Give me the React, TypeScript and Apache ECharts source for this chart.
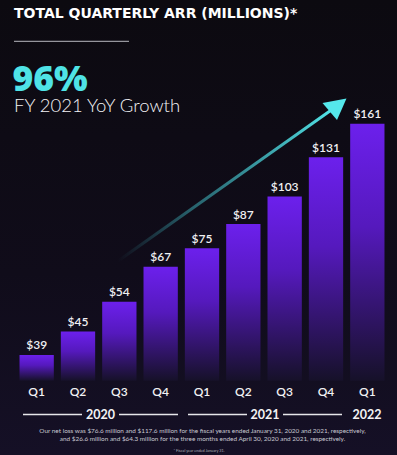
import React, { useEffect, useRef } from "react";
import * as echarts from "echarts";

const quarters = ["Q1", "Q2", "Q3", "Q4", "Q1", "Q2", "Q3", "Q4", "Q1"];
const arrMillions = [39, 45, 54, 67, 75, 87, 103, 131, 161];
const fiscalYears = ["2020", "2021", "2022"];
const titleText = "TOTAL QUARTERLY ARR (MILLIONS)*";
const growthValue = "96%";
const growthLabel = "FY 2021 YoY Growth";
const footLine1 =
  "Our net loss was $76.6 million and $117.6 million for the fiscal years ended January 31, 2020 and 2021, respectively,";
const footLine2 =
  "and $26.6 million and $64.3 million for the three months ended April 30, 2020 and 2021, respectively.";
const footNote = "* Fiscal year ended January 31.";

const W = 397;
const H = 455;

export default function App() {
  const ref = useRef<HTMLDivElement>(null);
  useEffect(() => {
    if (!ref.current) return;
    const chart = echarts.init(ref.current, null, { renderer: "svg" });
    const font = "Lato, 'Open Sans', sans-serif";
    const yearLine = (x1: number, x2: number) => ({
      type: "line",
      shape: { x1, y1: 414.5, x2, y2: 414.5 },
      style: { stroke: "#e6e6ea", lineWidth: 1.5 },
    });
    const yearText = (x: number, t: string) => ({
      type: "text",
      x,
      y: 414.5,
      style: {
        text: t,
        fill: "#f2f2f4",
        font: `bold 12.5px ${font}`,
        align: "center",
        verticalAlign: "middle",
      },
    });
    chart.setOption({
      animation: false,
      backgroundColor: new echarts.graphic.LinearGradient(0, 0, 0, 1, [
        { offset: 0, color: "#0c0a10" },
        { offset: 0.6, color: "#100c1a" },
        { offset: 1, color: "#151026" },
      ]),
      grid: { left: 16, right: 9, top: 100, bottom: 74.3, containLabel: false },
      xAxis: {
        type: "category",
        data: quarters,
        axisLine: { show: false },
        axisTick: { show: false },
        axisLabel: {
          color: "#f2f2f4",
          fontSize: 12,
          fontWeight: 600,
          fontFamily: font,
          margin: 5,
          interval: 0,
        },
      },
      yAxis: {
        type: "log",
        min: 33.3,
        max: 186.2,
        startValue: 33.3,
        show: false,
        splitLine: { show: false },
      },
      series: [
        {
          type: "bar",
          data: arrMillions,
          barCategoryGap: "17%",
          itemStyle: {
            color: new echarts.graphic.LinearGradient(0, 0, 0, 1, [
              { offset: 0, color: "#6c20ec" },
              { offset: 0.4, color: "#5519bd" },
              { offset: 1, color: "#161129" },
            ]),
          },
          label: {
            show: true,
            position: "top",
            distance: 4,
            formatter: "${c}",
            color: "#f0f0f2",
            fontSize: 12,
            fontWeight: 600,
            fontFamily: font,
          },
        },
      ],
      graphic: [
        {
          type: "text",
          x: 14,
          y: 13,
          style: {
            text: titleText,
            fill: "#ffffff",
            font: `bold 14px 'DejaVu Sans', sans-serif`,
            verticalAlign: "middle",
          },
        },
        {
          type: "line",
          shape: { x1: 14, y1: 41.3, x2: 129, y2: 41.3 },
          style: { stroke: "#b8b8c0", lineWidth: 1 },
        },
        {
          type: "text",
          x: 12.5,
          y: 60.5,
          style: {
            text: `{a|${growthValue}}\n{b|${growthLabel}}`,
            verticalAlign: "top",
            rich: {
              a: {
                fill: "#4fe3e6",
                fontFamily: "'Open Sans', Lato, sans-serif",
                fontWeight: 800,
                fontSize: 35.5,
                lineHeight: 32,
              },
              b: {
                fill: "#f2f2f4",
                fontFamily: font,
                fontWeight: 300,
                fontSize: 18.5,
                lineHeight: 24,
                padding: [0, 0, 0, 1.5],
              },
            },
          },
        },
        {
          type: "line",
          shape: { x1: 118, y1: 261, x2: 332, y2: 109.5 },
          style: {
            stroke: new echarts.graphic.LinearGradient(0, 0, 1, 0, [
              { offset: 0, color: "rgba(60,170,180,0)" },
              { offset: 0.35, color: "rgba(60,170,180,0.55)" },
              { offset: 1, color: "#52e6ea" },
            ]),
            lineWidth: 3,
          },
        },
        {
          type: "polygon",
          shape: {
            points: [
              [346.5, 98.5],
              [322.5, 103],
              [337, 120],
            ],
          },
          style: { fill: "#55e8ec" },
        },
        yearLine(23, 82),
        yearLine(119, 178),
        yearLine(188, 247),
        yearLine(283, 342),
        yearText(100.5, fiscalYears[0]),
        yearText(265, fiscalYears[1]),
        yearText(367, fiscalYears[2]),
        {
          type: "text",
          x: 202.5,
          y: 430.5,
          style: {
            text: footLine1,
            fill: "#c9c9d2",
            font: `6.4px ${font}`,
            align: "center",
            verticalAlign: "middle",
          },
        },
        {
          type: "text",
          x: 202.5,
          y: 438.5,
          style: {
            text: footLine2,
            fill: "#c9c9d2",
            font: `6.4px ${font}`,
            align: "center",
            verticalAlign: "middle",
          },
        },
        {
          type: "text",
          x: 199,
          y: 450,
          style: {
            text: footNote,
            fill: "#b0b0ba",
            font: `3.8px ${font}`,
            align: "center",
            verticalAlign: "middle",
          },
        },
      ],
    });
    return () => chart.dispose();
  }, []);
  return (
    <div
      ref={ref}
      style={{ position: "fixed", left: 0, top: 0, width: W, height: H }}
    />
  );
}
